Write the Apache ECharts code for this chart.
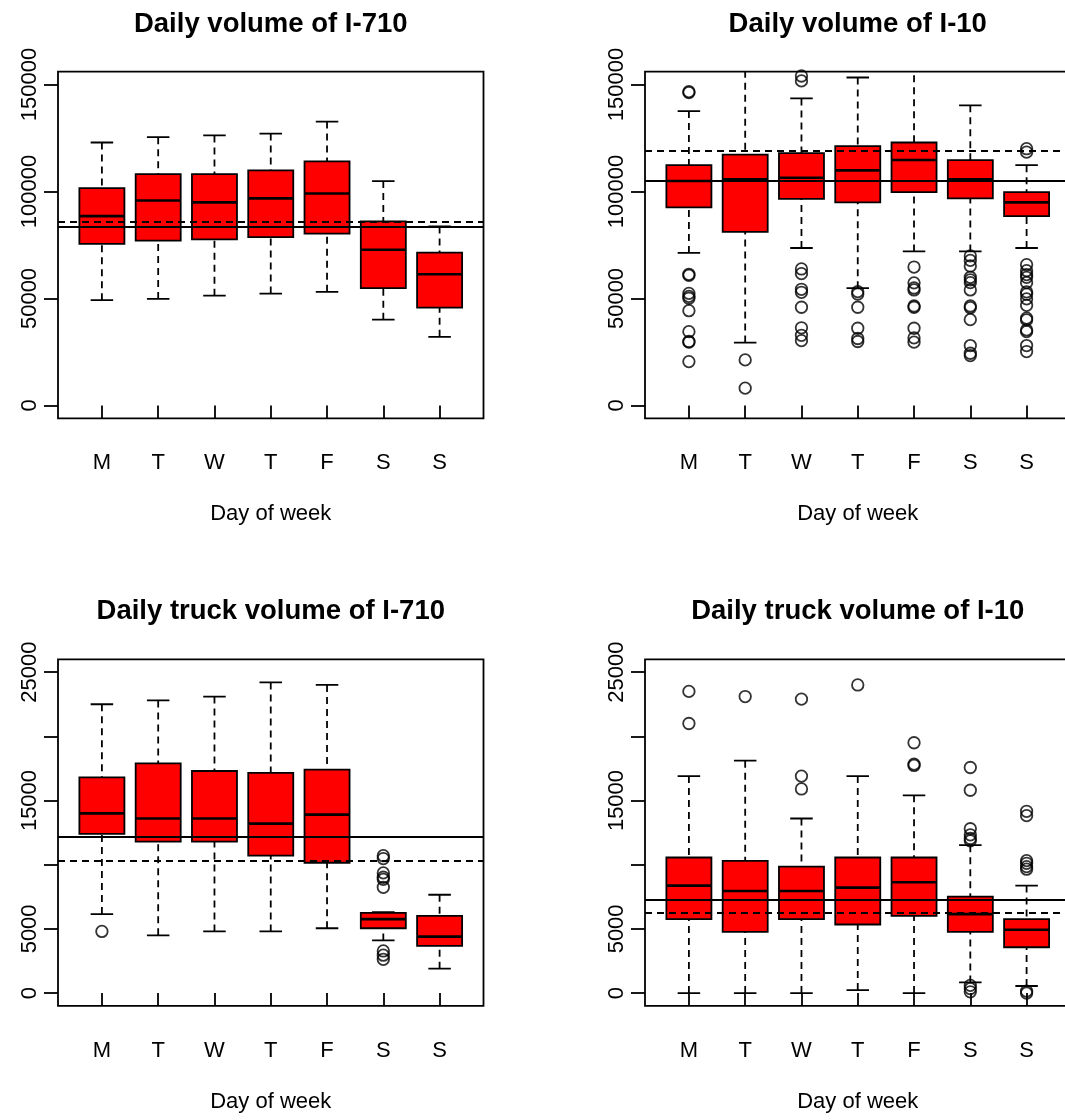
<!DOCTYPE html>
<html>
<head>
<meta charset="utf-8">
<title>Daily volume boxplots</title>
<script src="https://cdn.jsdelivr.net/npm/echarts@6/dist/echarts.min.js"></script>
<style>
    html, body { margin: 0; padding: 0; background: #fff; overflow: hidden; }
    #volume-box { width: 1065px; height: 1120px; }
</style>
</head>
<body>
<div id="volume-box"></div>
<script>
// categories
var days = ['M', 'T', 'W', 'T', 'F', 'S', 'S'];
var panelTitles = ['Daily volume of I-710', 'Daily volume of I-10',
                   'Daily truck volume of I-710', 'Daily truck volume of I-10'];

// tick values of the y axes
var volTicks = [0, 50000, 100000, 150000];
var volLabels = [0, 50000, 100000, 150000];
var truckTicks = [0, 5000, 10000, 15000, 20000, 25000];
var truckLabels = [0, 5000, 15000, 25000];

// I-710 daily volume: whisker low, Q1, median, Q3, whisker high
var vol710Low = [49200, 49800, 51300, 52300, 53100, 40100, 32100];
var vol710Q1 = [75500, 77000, 77600, 78700, 80300, 54800, 45700];
var vol710Med = [88500, 95800, 94900, 96800, 99100, 72800, 61300];
var vol710Q3 = [101600, 108100, 108100, 109900, 114100, 86000, 71400];
var vol710High = [122900, 125400, 126200, 127100, 132700, 104900, 83700];
var vol710Out = [[], [], [], [], [], [], []];
var vol710Ref = [83700, 86000]; // solid, dashed

// I-10 daily volume
var vol10Low = [71300, 29400, 73600, 54800, 72000, 72000, 73600];
var vol10Q1 = [92600, 81100, 96600, 94900, 99700, 96800, 88500];
var vol10Med = [104900, 105700, 106400, 109900, 114700, 105700, 94900];
var vol10Q3 = [112300, 117200, 117900, 121200, 122900, 114700, 99700];
var vol10High = [137600, 162000, 143500, 153300, 160000, 140300, 112300];
var vol10Out = [
    [146700, 146200, 61300, 60800, 52400, 51000, 50100, 44300, 34500, 29900, 29600, 20500],
    [21300, 8100],
    [154000, 151700, 63800, 61600, 54300, 52900, 45900, 36300, 32800, 30300],
    [53200, 52100, 45900, 36100, 31300, 29900],
    [64700, 57300, 54900, 54000, 46500, 45900, 36100, 31600, 29600],
    [69900, 67800, 65200, 59900, 58700, 57400, 54000, 46500, 45700, 40100, 28000, 24400, 23300],
    [120000, 118400, 65800, 63000, 61200, 59900, 57400, 53100, 52000, 49800, 46800, 40800, 40000, 35300, 34500, 28000, 25200]
];
var vol10Ref = [104900, 119000];

// I-710 daily truck volume
var truck710Low = [6150, 4500, 4800, 4800, 5050, 4100, 1900];
var truck710Q1 = [12400, 11800, 11800, 10700, 10150, 5050, 3680];
var truck710Med = [14000, 13600, 13600, 13200, 13900, 5760, 4400];
var truck710Q3 = [16800, 17900, 17300, 17150, 17400, 6250, 6020];
var truck710High = [22500, 22800, 23100, 24200, 24000, 6300, 7660];
var truck710Out = [[4800], [], [], [], [], [10700, 10480, 9360, 9020, 8860, 8240, 3280, 2950, 2630], []];
var truck710Ref = [12200, 10300];

// I-10 daily truck volume
var truck10Low = [0, 0, 0, 230, 0, 830, 550];
var truck10Q1 = [5760, 4770, 5760, 5340, 6020, 4770, 3570];
var truck10Med = [8370, 7950, 7950, 8210, 8630, 6150, 4930];
var truck10Q3 = [10560, 10300, 9850, 10560, 10560, 7510, 5760];
var truck10High = [16900, 18100, 13600, 16900, 15400, 11520, 8370];
var truck10Out = [
    [23500, 21000],
    [23100],
    [22900, 16900, 15900],
    [24000],
    [26100, 19500, 17830, 17730],
    [17570, 15800, 12800, 12330, 12040, 11860, 600, 350, 100],
    [14160, 13820, 10320, 10110, 9850, 9650, 150, 0]
];
var truck10Ref = [7270, 6280];

var font = '"Liberation Sans", Arial, Helvetica, sans-serif';
var colLeft = [58, 645];
var rowTop = [71.7, 659.3];
var frameW = 425.5;
var frameH = 346.6;
var lw = 1.8;
var dayPos = days.map(function (d, i) { return i + 1; });

function boxData(lo, q1, med, q3, hi) {
    return lo.map(function (v, i) {
        return [i + 1, lo[i], q1[i], med[i], q3[i], hi[i]];
    });
}

function outlierData(out) {
    var pts = [];
    out.forEach(function (vals, i) {
        vals.forEach(function (v) { pts.push([i + 1, v]); });
    });
    return pts;
}

// R style box: dashed whiskers, solid staples, red box, thick median
function renderBox(params, api) {
    var x = api.value(0);
    var half = api.size([0.8, 0])[0] / 2;
    var staple = half / 2;
    var pLo = api.coord([x, api.value(1)]);
    var pQ1 = api.coord([x, api.value(2)]);
    var pMed = api.coord([x, api.value(3)]);
    var pQ3 = api.coord([x, api.value(4)]);
    var pHi = api.coord([x, api.value(5)]);
    var cx = pMed[0];
    var dashed = { stroke: '#000', lineWidth: lw, lineDash: [7, 5] };
    var solid = { stroke: '#000', lineWidth: lw };
    return {
        type: 'group',
        children: [
            { type: 'line', shape: { x1: cx, y1: pHi[1], x2: cx, y2: pQ3[1] }, style: dashed },
            { type: 'line', shape: { x1: cx, y1: pLo[1], x2: cx, y2: pQ1[1] }, style: dashed },
            { type: 'line', shape: { x1: cx - staple, y1: pHi[1], x2: cx + staple, y2: pHi[1] }, style: solid },
            { type: 'line', shape: { x1: cx - staple, y1: pLo[1], x2: cx + staple, y2: pLo[1] }, style: solid },
            {
                type: 'rect',
                shape: { x: cx - half, y: pQ3[1], width: half * 2, height: pQ1[1] - pQ3[1] },
                style: { fill: '#ff0000', stroke: '#000', lineWidth: lw }
            },
            { type: 'line', shape: { x1: cx - half, y1: pMed[1], x2: cx + half, y2: pMed[1] }, style: { stroke: '#000', lineWidth: 2.6 } }
        ]
    };
}

var panels = [
    { box: boxData(vol710Low, vol710Q1, vol710Med, vol710Q3, vol710High), out: vol710Out, ref: vol710Ref,
      min: -6000, max: 156000, ticks: volTicks, labels: volLabels },
    { box: boxData(vol10Low, vol10Q1, vol10Med, vol10Q3, vol10High), out: vol10Out, ref: vol10Ref,
      min: -6000, max: 156000, ticks: volTicks, labels: volLabels },
    { box: boxData(truck710Low, truck710Q1, truck710Med, truck710Q3, truck710High), out: truck710Out, ref: truck710Ref,
      min: -1000, max: 26000, ticks: truckTicks, labels: truckLabels },
    { box: boxData(truck10Low, truck10Q1, truck10Med, truck10Q3, truck10High), out: truck10Out, ref: truck10Ref,
      min: -1000, max: 26000, ticks: truckTicks, labels: truckLabels }
];

var grids = [], xAxes = [], yAxes = [], series = [], titles = [];

panels.forEach(function (p, g) {
    var left = colLeft[g % 2];
    var top = rowTop[Math.floor(g / 2)];
    grids.push({
        left: left, top: top, width: frameW, height: frameH,
        show: true, borderColor: '#000', borderWidth: lw,
        backgroundColor: 'transparent', outerBoundsMode: 'none'
    });
    xAxes.push({
        type: 'value', gridIndex: g, min: 0.22, max: 7.78,
        name: 'Day of week', nameLocation: 'middle', nameGap: 85,
        nameTextStyle: { fontSize: 22, color: '#000', fontFamily: font },
        axisLine: { show: false },
        axisTick: { show: true, length: 13, customValues: dayPos, lineStyle: { color: '#000', width: lw } },
        axisLabel: {
            customValues: dayPos, margin: 34, fontSize: 22, color: '#000', fontFamily: font,
            formatter: function (v) { return days[Math.round(v) - 1]; }
        },
        splitLine: { show: false }
    });
    yAxes.push({
        type: 'value', gridIndex: g, min: p.min, max: p.max,
        axisLine: { show: false },
        axisTick: { show: true, length: 14, customValues: p.ticks, lineStyle: { color: '#000', width: lw } },
        axisLabel: {
            customValues: p.labels, rotate: 90, margin: 17, fontSize: 22, color: '#000', fontFamily: font,
            formatter: function (v) { return String(v); }
        },
        splitLine: { show: false }
    });
    series.push({
        type: 'custom', xAxisIndex: g, yAxisIndex: g,
        renderItem: renderBox, clip: true, silent: true,
        encode: { x: 0, y: [1, 2, 3, 4, 5] },
        data: p.box,
        // overall lines drawn across the panel, solid then dashed
        markLine: {
            silent: true, symbol: 'none', label: { show: false },
            data: [
                { yAxis: p.ref[0], lineStyle: { color: '#000', width: lw, type: 'solid' } },
                { yAxis: p.ref[1], lineStyle: { color: '#000', width: lw, type: [7, 5] } }
            ]
        }
    });
    series.push({
        type: 'scatter', xAxisIndex: g, yAxisIndex: g,
        symbol: 'circle', symbolSize: 11.5, clip: true, silent: true,
        itemStyle: { color: 'rgba(0,0,0,0)', borderColor: '#000', borderWidth: lw },
        data: outlierData(p.out)
    });
    titles.push({
        type: 'text', x: left + frameW / 2, y: top - 47.5,
        style: {
            text: panelTitles[g], textAlign: 'center', textVerticalAlign: 'middle',
            font: 'bold 27.5px ' + font, fill: '#000'
        }
    });
});

var chart = echarts.init(document.getElementById('volume-box'));
chart.setOption({
    animation: false,
    backgroundColor: '#fff',
    grid: grids,
    xAxis: xAxes,
    yAxis: yAxes,
    series: series,
    graphic: titles
});
window.addEventListener('resize', function () {
    chart.resize();
});
</script>
</body>
</html>
